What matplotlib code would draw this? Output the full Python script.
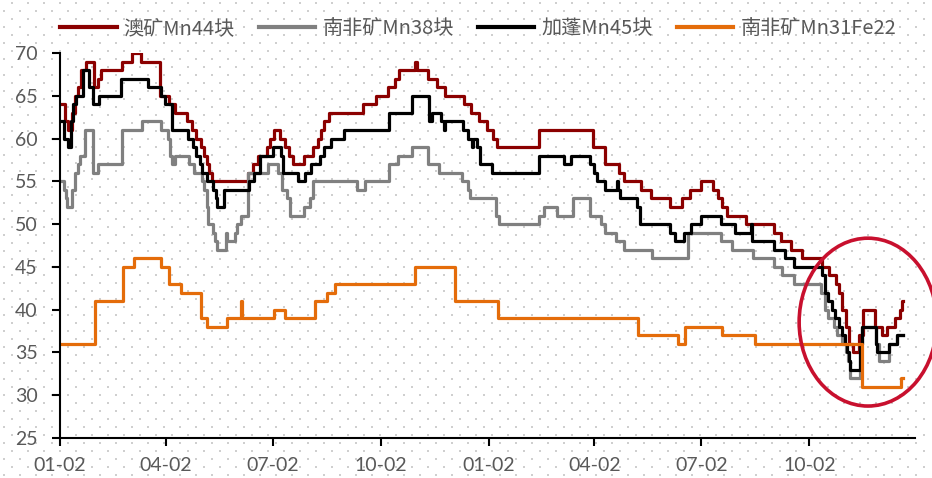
import numpy as np
import pandas as pd
import matplotlib.pyplot as plt
import matplotlib.dates as mdates
from matplotlib.patches import Ellipse

# 澳矿Mn44块 (change points, step series)
au44_dates = ['2018-01-02', '2018-01-06', '2018-01-09', '2018-01-12', '2018-01-15', '2018-01-17',
              '2018-01-20', '2018-01-24', '2018-01-31', '2018-02-03', '2018-02-06', '2018-02-24',
              '2018-03-04', '2018-03-12', '2018-03-28', '2018-04-05', '2018-04-10', '2018-04-20',
              '2018-04-24', '2018-04-28', '2018-05-02', '2018-05-05', '2018-05-07', '2018-05-09',
              '2018-05-11', '2018-06-11', '2018-06-15', '2018-06-20', '2018-06-27', '2018-06-30',
              '2018-07-03', '2018-07-08', '2018-07-13', '2018-07-16', '2018-07-19', '2018-07-29',
              '2018-08-05', '2018-08-10', '2018-08-12', '2018-08-15', '2018-08-19', '2018-09-17',
              '2018-09-28', '2018-10-08', '2018-10-14', '2018-10-18', '2018-10-31', '2018-11-02',
              '2018-11-11', '2018-11-19', '2018-11-26', '2018-12-12', '2018-12-18', '2018-12-25',
              '2019-01-01', '2019-01-06', '2019-01-09', '2019-02-14', '2019-04-01', '2019-04-11',
              '2019-04-23', '2019-04-27', '2019-05-12', '2019-05-20', '2019-06-05', '2019-06-16',
              '2019-06-22', '2019-07-02', '2019-07-12', '2019-07-16', '2019-07-20', '2019-07-24',
              '2019-08-09', '2019-09-02', '2019-09-08', '2019-09-16', '2019-09-26', '2019-10-13',
              '2019-10-19', '2019-10-25', '2019-10-27', '2019-10-30', '2019-11-02', '2019-11-05',
              '2019-11-08', '2019-11-13', '2019-11-17', '2019-11-27', '2019-12-03', '2019-12-07',
              '2019-12-14', '2019-12-18', '2019-12-20', '2019-12-21']
au44_vals = [64, 62, 61, 63, 65, 66, 68, 69, 66, 67, 68, 69,
             70, 69, 65, 64, 63, 62, 61, 60, 59, 58, 57, 56,
             55, 56, 57, 58, 59, 60, 61, 60, 59, 58, 57, 58,
             59, 60, 61, 62, 63, 64, 65, 66, 67, 68, 69, 68,
             67, 66, 65, 64, 63, 62, 61, 60, 59, 61, 59, 57,
             56, 55, 54, 53, 52, 53, 54, 55, 54, 53, 52, 51,
             50, 49, 48, 47, 46, 45, 44, 43, 42, 40, 38, 36,
             35, 37, 40, 38, 37, 38, 39, 40, 41, 41]

# 南非矿Mn38块
sa38_dates = ['2018-01-02', '2018-01-05', '2018-01-07', '2018-01-08', '2018-01-12', '2018-01-15',
              '2018-01-17', '2018-01-19', '2018-01-23', '2018-01-30', '2018-02-03', '2018-02-24',
              '2018-03-13', '2018-03-29', '2018-04-04', '2018-04-06', '2018-04-07', '2018-04-10',
              '2018-04-22', '2018-04-26', '2018-05-03', '2018-05-05', '2018-05-07', '2018-05-08',
              '2018-05-12', '2018-05-14', '2018-05-16', '2018-05-23', '2018-05-24', '2018-05-31',
              '2018-06-02', '2018-06-05', '2018-06-11', '2018-06-28', '2018-07-07', '2018-07-10',
              '2018-07-14', '2018-07-17', '2018-07-29', '2018-08-03', '2018-08-05', '2018-09-12',
              '2018-09-19', '2018-10-09', '2018-10-17', '2018-10-29', '2018-11-11', '2018-11-21',
              '2018-12-10', '2018-12-15', '2018-12-17', '2019-01-08', '2019-01-11', '2019-02-14',
              '2019-02-18', '2019-03-01', '2019-03-15', '2019-03-29', '2019-04-08', '2019-04-11',
              '2019-04-20', '2019-04-27', '2019-05-21', '2019-06-21', '2019-07-19', '2019-07-28',
              '2019-08-15', '2019-09-02', '2019-09-09', '2019-09-19', '2019-10-12', '2019-10-15',
              '2019-10-18', '2019-10-23', '2019-10-26', '2019-10-30', '2019-11-02', '2019-11-04',
              '2019-11-06', '2019-11-14', '2019-11-16', '2019-11-28', '2019-11-30', '2019-12-09',
              '2019-12-16', '2019-12-21']
sa38_vals = [55, 54, 53, 52, 54, 56, 57, 58, 61, 56, 57, 61,
             62, 61, 60, 58, 57, 58, 57, 56, 55, 54, 52, 50,
             49, 48, 47, 49, 48, 49, 50, 51, 56, 57, 56, 54,
             53, 51, 52, 53, 55, 54, 55, 57, 58, 59, 57, 56,
             55, 54, 53, 51, 50, 51, 52, 51, 53, 51, 50, 49,
             48, 47, 46, 49, 48, 47, 46, 45, 44, 43, 42, 40,
             39, 38, 37, 36, 35, 34, 32, 36, 38, 36, 34, 36,
             37, 37]

# 加蓬Mn45块
ga45_dates = ['2018-01-02', '2018-01-05', '2018-01-09', '2018-01-11', '2018-01-13', '2018-01-16',
              '2018-01-22', '2018-01-27', '2018-01-30', '2018-02-04', '2018-02-23', '2018-03-18',
              '2018-03-29', '2018-04-01', '2018-04-07', '2018-04-21', '2018-04-25', '2018-04-28',
              '2018-05-01', '2018-05-03', '2018-05-07', '2018-05-12', '2018-05-15', '2018-05-16',
              '2018-05-22', '2018-06-12', '2018-06-16', '2018-06-21', '2018-07-02', '2018-07-09',
              '2018-07-11', '2018-07-24', '2018-07-30', '2018-08-04', '2018-08-11', '2018-08-15',
              '2018-08-21', '2018-09-01', '2018-10-09', '2018-10-29', '2018-11-12', '2018-11-15',
              '2018-11-22', '2018-11-25', '2018-11-26', '2018-12-11', '2018-12-15', '2018-12-19',
              '2018-12-20', '2018-12-23', '2018-12-26', '2019-01-05', '2019-02-14', '2019-03-07',
              '2019-03-13', '2019-03-29', '2019-04-02', '2019-04-04', '2019-04-11', '2019-04-21',
              '2019-04-22', '2019-04-24', '2019-05-08', '2019-05-11', '2019-06-05', '2019-06-10',
              '2019-06-17', '2019-06-23', '2019-07-02', '2019-07-19', '2019-07-31', '2019-08-13',
              '2019-08-14', '2019-09-02', '2019-09-11', '2019-09-19', '2019-10-13', '2019-10-15',
              '2019-10-18', '2019-10-21', '2019-10-24', '2019-10-27', '2019-10-30', '2019-11-01',
              '2019-11-03', '2019-11-05', '2019-11-06', '2019-11-14', '2019-11-16', '2019-11-28',
              '2019-11-29', '2019-12-09', '2019-12-16', '2019-12-21']
ga45_vals = [62, 60, 59, 62, 64, 65, 68, 66, 64, 65, 67, 66,
             65, 64, 61, 60, 59, 58, 57, 56, 55, 54, 53, 52,
             54, 55, 56, 58, 59, 58, 56, 55, 56, 57, 58, 59,
             60, 61, 63, 65, 62, 63, 62, 61, 62, 61, 60, 59,
             60, 59, 57, 56, 58, 57, 58, 57, 56, 55, 54, 55,
             54, 53, 52, 50, 49, 48, 49, 50, 51, 50, 49, 50,
             48, 47, 46, 45, 44, 42, 41, 40, 39, 38, 37, 36,
             35, 34, 33, 36, 38, 36, 35, 36, 37, 37]

# 南非矿Mn31Fe22
sa31_dates = ['2018-01-02', '2018-02-01', '2018-02-25', '2018-03-06', '2018-03-29', '2018-04-05',
              '2018-04-15', '2018-05-02', '2018-05-07', '2018-05-24', '2018-06-05', '2018-06-06',
              '2018-07-03', '2018-07-13', '2018-08-07', '2018-08-17', '2018-08-24', '2018-10-31',
              '2018-12-04', '2019-01-10', '2019-05-09', '2019-06-12', '2019-06-18', '2019-07-20',
              '2019-08-17', '2019-11-16', '2019-12-19', '2019-12-21']
sa31_vals = [36, 41, 45, 46, 45, 43, 42, 39, 38, 39, 41, 39,
             40, 39, 41, 42, 43, 45, 41, 39, 37, 36, 38, 37,
             36, 31, 32, 32]

names = ['澳矿Mn44块', '南非矿Mn38块', '加蓬Mn45块', '南非矿Mn31Fe22']
colors = ['#8B0000', '#808080', '#000000', '#E46C0A']
tick_dates = ['2018-01-02', '2018-04-02', '2018-07-02', '2018-10-02',
              '2019-01-02', '2019-04-02', '2019-07-02', '2019-10-02']

W, H = 932, 478
fig = plt.figure(figsize=(W / 100, H / 100), dpi=100)

# dotted background over the whole picture
bg = fig.add_axes([0, 0, 1, 1], zorder=0)
bg.set_xlim(0, W)
bg.set_ylim(H, 0)
bg.axis('off')
gx, gy = np.meshgrid(np.arange(4, W, 16), np.arange(10.7, H, 16))
bg.scatter(gx.ravel(), gy.ravel(), s=2.2, marker='s', color='#CFCFCF', linewidths=0)
gx, gy = np.meshgrid(np.arange(12, W, 16), np.arange(2.7, H, 16))
bg.scatter(gx.ravel(), gy.ravel(), s=2.2, marker='s', color='#CFCFCF', linewidths=0)

ax = fig.add_axes([60 / W, 40 / H, 855 / W, 385 / H], zorder=1)
ax.patch.set_alpha(0)

series = [(au44_dates, au44_vals), (sa38_dates, sa38_vals),
          (ga45_dates, ga45_vals), (sa31_dates, sa31_vals)]
for (d, v), name, c in zip(series, names, colors):
    ax.plot(pd.to_datetime(d), v, drawstyle='steps-post', color=c, lw=2.3, label=name)

ax.set_xlim(pd.Timestamp('2018-01-02'), pd.Timestamp('2019-12-31'))
ax.set_ylim(25, 70)
ax.set_yticks(range(25, 71, 5))
ax.set_xticks(pd.to_datetime(tick_dates))
ax.xaxis.set_major_formatter(mdates.DateFormatter('%m-%d'))

for s in ['top', 'right']:
    ax.spines[s].set_visible(False)
for s in ['left', 'bottom']:
    ax.spines[s].set_linewidth(1.5)
    ax.spines[s].set_color('black')
ax.tick_params(direction='out', length=6, width=1.5, color='black',
               labelcolor='#595959', labelsize=14)
ax.tick_params(axis='y', pad=10)
ax.tick_params(axis='x', pad=8)
for lab in ax.get_xticklabels() + ax.get_yticklabels():
    lab.set_family(['Lato', 'DejaVu Sans'])

# highlight circle
ax.add_patch(Ellipse((0.945, 0.301), 0.161, 0.436, transform=ax.transAxes,
                     fill=False, edgecolor='#C8102E', lw=2.6, clip_on=False, zorder=5))

leg = fig.legend(loc='upper center', bbox_to_anchor=(0.513, 1.0), ncol=4, frameon=False,
                 prop={'family': ['Noto Sans CJK SC', 'DejaVu Sans'], 'size': 14.5},
                 handlelength=2.8, handletextpad=0.35, columnspacing=1.2)
for t in leg.get_texts():
    t.set_color('#595959')
for l in leg.get_lines():
    l.set_linewidth(3)

fig.savefig('out.png', dpi=100)
